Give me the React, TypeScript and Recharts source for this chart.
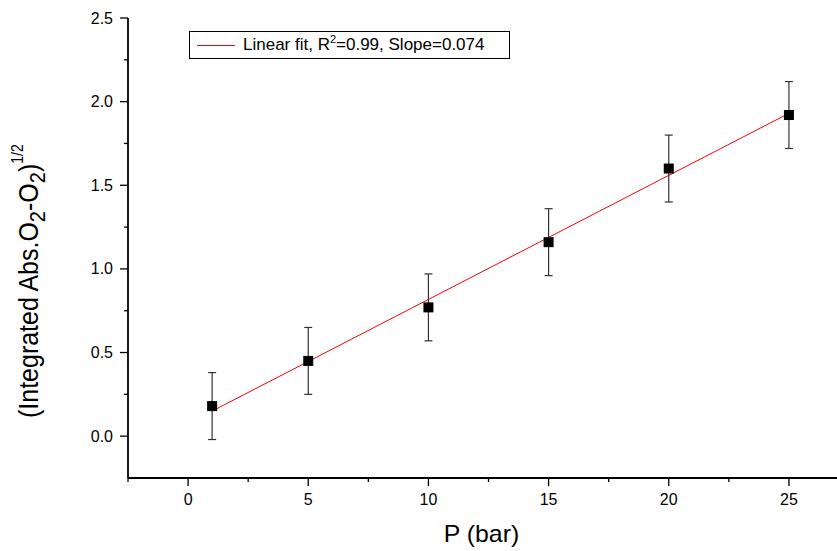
import React from 'react';
import { ComposedChart, XAxis, YAxis, Scatter, Line, ErrorBar } from 'recharts';

const pressures = [1, 5, 10, 15, 20, 25];
const absValues = [0.18, 0.45, 0.77, 1.16, 1.6, 1.92];
const errValues = [0.2, 0.2, 0.2, 0.2, 0.2, 0.2];
const fitP = [1, 25];
const fitValues = [0.15, 1.93];
const xMajorTicks = [0, 5, 10, 15, 20, 25];
const xMinorTicks = [-2.5, 2.5, 7.5, 12.5, 17.5, 22.5];
const yMajorTicks = [0, 0.5, 1.0, 1.5, 2.0, 2.5];
const yMinorTicks = [0.25, 0.75, 1.25, 1.75, 2.25];
const legendLabel = 'Linear fit, R';
const legendRest = '=0.99, Slope=0.074';

const points = pressures.map((p, i) => ({ p, v: absValues[i], err: errValues[i] }));
const fitData = fitP.map((p, i) => ({ p, fit: fitValues[i] }));

const FONT = '"Liberation Sans", Arial, sans-serif';

const XTick = (props: any) => {
  const { x, y, payload } = props;
  const major = xMajorTicks.includes(payload.value);
  return (
    <g>
      <line x1={x} y1={y} x2={x} y2={y + (major ? 8 : 4)} stroke="#000" strokeWidth={1.3} />
      {major && (
        <text x={x} y={y + 27} textAnchor="middle" fontSize={16} fontFamily={FONT} fill="#000">
          {payload.value}
        </text>
      )}
    </g>
  );
};

const YTick = (props: any) => {
  const { x, y, payload } = props;
  const major = yMajorTicks.includes(payload.value);
  return (
    <g>
      <line x1={x} y1={y} x2={x - (major ? 8 : 4)} y2={y} stroke="#000" strokeWidth={1.3} />
      {major && (
        <text x={x - 15} y={y + 5.5} textAnchor="end" fontSize={16} fontFamily={FONT} fill="#000">
          {payload.value.toFixed(1)}
        </text>
      )}
    </g>
  );
};

const XLabel = (props: any) => {
  const vb = props.viewBox || { x: 128, y: 478, width: 709, height: 73 };
  const cx = vb.x + vb.width / 2 - 1;
  return (
    <g transform={`translate(${cx} ${vb.y + 64}) scale(1.08 1)`}>
      <text x={0} y={0} textAnchor="middle" fontSize={23} fontFamily={FONT} fill="#000">
        P (bar)
      </text>
    </g>
  );
};

const YLabel = () => (
  <g transform="translate(38 418) scale(1.12 1) rotate(-90)">
    <text x={0} y={0} textAnchor="start" fontSize={25} fontFamily={FONT} fill="#000">
      <tspan>(Integrated Abs.O</tspan>
      <tspan dy={6} fontSize={20}>2</tspan>
      <tspan dy={-6}>-O</tspan>
      <tspan dy={6} fontSize={20}>2</tspan>
      <tspan dy={-6}>)</tspan>
      <tspan dy={-13} fontSize={14}>1/2</tspan>
    </text>
  </g>
);

const Square = (props: any) => {
  const { cx, cy } = props;
  if (cx == null || cy == null) return null;
  return <rect x={cx - 5} y={cy - 5} width={10} height={10} fill="#000" />;
};

const LegendBox = () => (
  <div
    style={{
      position: 'absolute',
      left: 189,
      top: 31,
      border: '1px solid #000',
      width: 321,
      height: 28,
      boxSizing: 'border-box',
      display: 'flex',
      alignItems: 'center',
      fontFamily: FONT,
      fontSize: 17,
      color: '#000',
      background: '#fff',
      whiteSpace: 'nowrap',
    }}
  >
    <svg width={46} height={10} style={{ marginLeft: 7, marginRight: 0, display: 'block' }}>
      <line x1={0} y1={5.5} x2={38} y2={5.5} stroke="#ff0000" strokeWidth={1.2} />
    </svg>
    <span>
      {legendLabel}
      <span style={{ fontSize: 11, position: 'relative', top: -7 }}>2</span>
      {legendRest}
    </span>
  </div>
);

export default function App() {
  return (
    <div style={{ position: 'absolute', left: 0, top: 0, width: 837, height: 551, background: '#fff' }}>
      <ComposedChart width={837} height={551} margin={{ top: 18, right: 0, bottom: 0, left: 0 }} data={points}>
        <XAxis
          dataKey="p"
          type="number"
          domain={[-2.5, 27]}
          allowDataOverflow
          ticks={[...xMinorTicks, ...xMajorTicks].sort((a, b) => a - b)}
          interval={0}
          tickSize={0}
          tickMargin={0}
          tickLine={false}
          tick={<XTick />}
          axisLine={{ stroke: '#000', strokeWidth: 1.8 }}
          height={73}
          label={<XLabel />}
        />
        <YAxis
          type="number"
          domain={[-0.25, 2.5]}
          allowDataOverflow
          ticks={[...yMajorTicks, ...yMinorTicks].sort((a, b) => a - b)}
          interval={0}
          tickSize={0}
          tickMargin={0}
          tickLine={false}
          tick={<YTick />}
          axisLine={{ stroke: '#000', strokeWidth: 1.8 }}
          width={128}
          label={<YLabel />}
        />
        <Line
          data={fitData}
          dataKey="fit"
          stroke="#ff0000"
          strokeWidth={1}
          dot={false}
          activeDot={false}
          isAnimationActive={false}
          type="linear"
        />
        <Scatter data={points} dataKey="v" shape={<Square />} isAnimationActive={false}>
          <ErrorBar dataKey="err" direction="y" width={4} stroke="#333" strokeWidth={1.2} />
        </Scatter>
      </ComposedChart>
      <LegendBox />
    </div>
  );
}
